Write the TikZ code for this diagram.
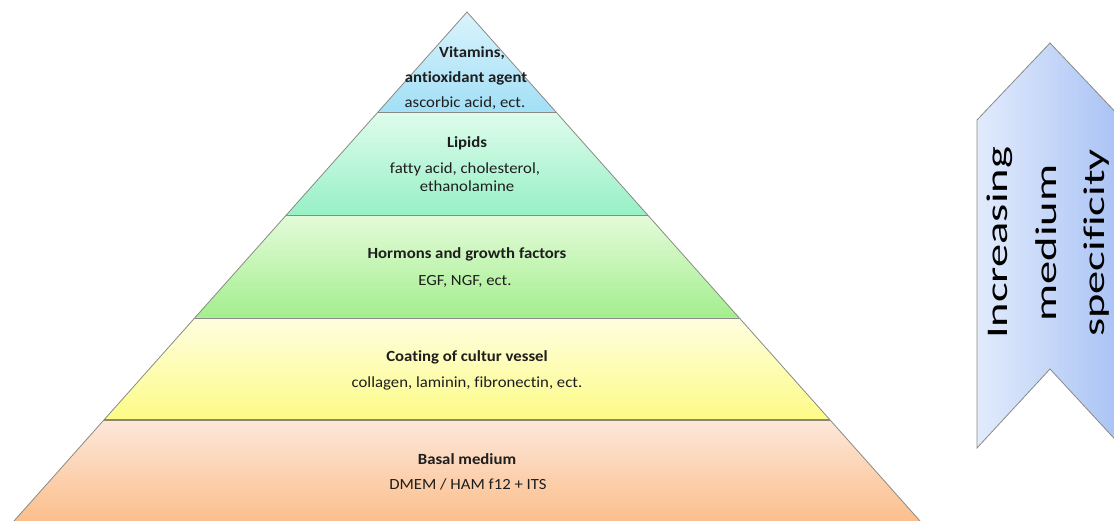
\documentclass[tikz,border=0pt]{standalone}
\usepackage{fontspec}
\setmainfont{Carlito}[Ligatures=NoCommon]
\definecolor{txt}{HTML}{1E1E1E}
\definecolor{edgegray}{HTML}{8A8A84}
\definecolor{blueT}{HTML}{DAF3FC}
\definecolor{blueB}{HTML}{A2DFF6}
\definecolor{lipT}{HTML}{DFFCEC}
\definecolor{lipB}{HTML}{97F0C6}
\definecolor{horT}{HTML}{E4FBD9}
\definecolor{horB}{HTML}{A3EE8E}
\definecolor{coaT}{HTML}{FEFEE0}
\definecolor{coaB}{HTML}{FDFB86}
\definecolor{basT}{HTML}{FDE7DA}
\definecolor{basB}{HTML}{FBBF8C}
\definecolor{arrL}{HTML}{E2EBFC}
\definecolor{arrR}{HTML}{A8C2F5}
\begin{document}
\begin{tikzpicture}[x=1pt,y=1pt,
  title/.style={font=\fontsize{15.5}{17}\selectfont\bfseries, text=txt, anchor=base, inner sep=0pt, xscale=1.08, transform shape},
  sub/.style={font=\fontsize{15.5}{17}\selectfont, text=txt, anchor=base, inner sep=0pt, xscale=1.08, transform shape},
  layeredge/.style={draw=edgegray, line width=0.8pt},
  arrowtxt/.style={font=\fontsize{30}{30}\selectfont, text=black, rotate=90, xscale=1.55, transform shape, anchor=base, inner sep=0pt}]
\useasboundingbox (0,0) rectangle (1114,521);
\clip (0,0) rectangle (1114,521);
% pyramid corner points
\coordinate (A) at (467,509);
\coordinate (L1l) at (378,409);   \coordinate (L1r) at (556,409);
\coordinate (L2l) at (286.3,306); \coordinate (L2r) at (647.7,306);
\coordinate (L3l) at (194.7,203); \coordinate (L3r) at (739.3,203);
\coordinate (L4l) at (103.9,101); \coordinate (L4r) at (830.1,101);
\coordinate (L5l) at (14,0);      \coordinate (L5r) at (920,0);
% layers
\shade[top color=blueT, bottom color=blueB] (A) -- (L1r) -- (L1l) -- cycle;
\shade[top color=lipT, bottom color=lipB] (L1l) -- (L1r) -- (L2r) -- (L2l) -- cycle;
\shade[top color=horT, bottom color=horB] (L2l) -- (L2r) -- (L3r) -- (L3l) -- cycle;
\shade[top color=coaT, bottom color=coaB] (L3l) -- (L3r) -- (L4r) -- (L4l) -- cycle;
\shade[top color=basT, bottom color=basB] (L4l) -- (L4r) -- (L5r) -- (L5l) -- cycle;
\draw[layeredge] (L1l) -- (L1r);
\draw[layeredge] (L2l) -- (L2r);
\draw[layeredge] (L3l) -- (L3r);
\draw[layeredge, line width=1.3pt, draw=edgegray!80!olive] (L4l) -- (L4r);
\draw[layeredge, line join=miter] (L5l) -- (A) -- (L5r);
% texts
\node[title] (t1a) at (472,463) {Vitamins,};
\node[title] (t1b) at (466,438) {antioxidant agent};
\node[sub]   (t1c) at (465,413) {ascorbic acid, ect.};
\node[title] (t2a) at (467,373) {Lipids};
\node[sub]   (t2b) at (465,347) {fatty acid, cholesterol,};
\node[sub]   (t2c) at (467,329) {ethanolamine};
\node[title] (t3a) at (467,262) {Hormons and growth factors};
\node[sub]   (t3b) at (465,235) {EGF, NGF, ect.};
\node[title] (t4a) at (467,159) {Coating of cultur vessel};
\node[sub]   (t4b) at (467,133) {collagen, laminin, fibronectin, ect.};
\node[title] (t5a) at (467,56)  {Basal medium};
\node[sub]   (t5b) at (468,31)  {DMEM / HAM f12 + ITS};
% chevron arrow
\shade[left color=arrL, right color=arrR, draw=edgegray, line width=0.8pt]
  (977,401) -- (1050,478) -- (1123,401) -- (1123,73) -- (1050,152) -- (977,73) -- cycle;
\node[arrowtxt] (a1) at (1007,278) {Increasing};
\node[arrowtxt] (a2) at (1056,278) {medium};
\node[arrowtxt] (a3) at (1104,278) {specificity};
\end{tikzpicture}
\end{document}
